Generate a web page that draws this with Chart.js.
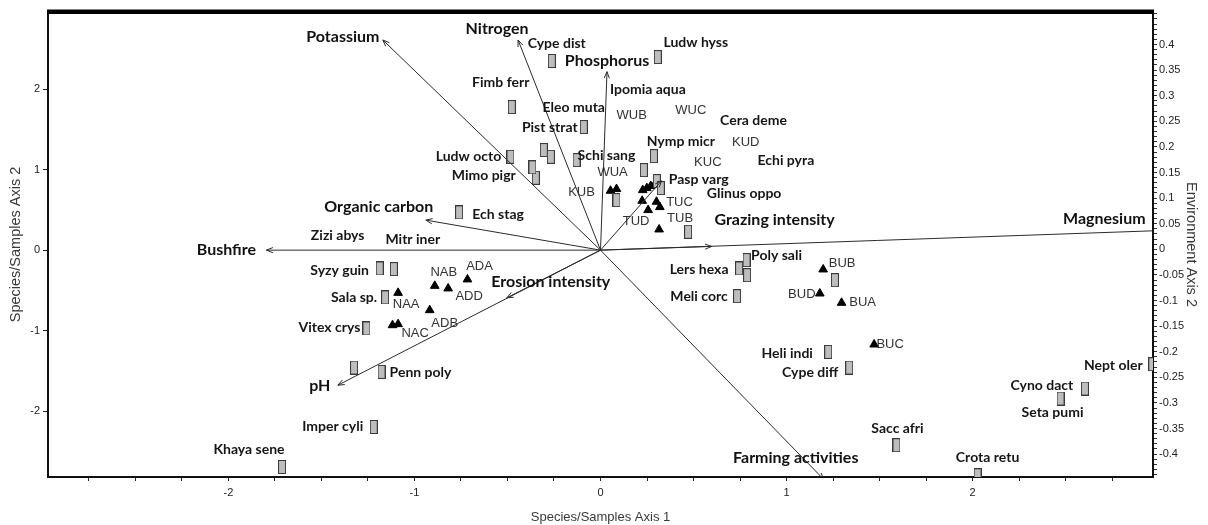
<!DOCTYPE html>
<html>
<head>
<meta charset="utf-8">
<title>CCA biplot</title>
<script src="https://cdn.jsdelivr.net/npm/chart.js@4.4.1/dist/chart.umd.min.js"></script>
<style>
  html, body { margin: 0; padding: 0; background: #ffffff; }
  #wrap { width: 1208px; height: 525px; }
</style>
</head>
<body>
<div id="wrap"><canvas id="cca" width="1208" height="525"></canvas></div>
<script>
// ---- Species scores (Species/Samples Axis 1, Axis 2) ----
const speciesNames = ['Cype dist','Ludw hyss','Fimb ferr','Eleo muta','Pist strat','Ipomia aqua','Cera deme','Echi pyra',
  'Glinus oppo','Pasp varg','Nymp micr','Ludw octo','Mimo pigr','Schi sang','Ech stag','Zizi abys','Mitr iner',
  'Syzy guin','Sala sp.','Vitex crys','Penn poly','Imper cyli','Khaya sene','Lers hexa','Poly sali','Meli corc',
  'Heli indi','Cype diff','Sacc afri','Crota retu','Nept oler','Cyno dact','Seta pumi','','','','','',''];
const speciesAxis1 = [-0.262, 0.308, -0.477, -0.305, -0.090, 0.233, 0.086, 0.303,
  0.471, 0.324, 0.287, -0.484, -0.348, -0.129, -0.760, -1.230, -1.052,
  -1.187, -1.158, -1.258, -1.177, -1.219, -1.712, 0.745, 0.785, 0.734,
  1.224, 1.337, 1.591, 2.027, 2.966, 2.604, 2.473, -0.366, -0.267, -1.111, -1.325, 0.788, 1.260];
const speciesAxis2 = [2.351, 2.400, 1.779, 1.244, 1.530, 0.995, 0.622, 0.858,
  0.228, 0.771, 1.169, 1.160, 0.899, 1.119, 0.469, 0, 0,
  -0.228, -0.588, -0.974, -1.514, -2.198, -2.695, -0.228, -0.124, -0.572,
  -1.265, -1.459, -2.425, -2.799, -1.418, -1.720, -1.845, 1.029, 1.160, -0.236, -1.459, -0.311, -0.373];
// species whose symbol sits under the Bushfire arrow and is not drawn
const speciesWithoutSymbol = ['Zizi abys', 'Mitr iner'];

// ---- Sample (site) scores ----
const siteNames = ['ADA','NAB','ADD','NAA','ADB','NAC','','BUB','BUD','BUA','BUC','TUC','TUB','TUD',
  'WUA','KUB','WUB','WUC','KUD','KUC','',''];
const siteAxis1 = [-0.715, -0.891, -0.819, -1.088, -0.918, -1.088, -1.118, 1.197, 1.179, 1.296, 1.471, 0.301, 0.315, 0.256,
  0.054, 0.086, 0.227, 0.249, 0.270, 0.292, 0.224, 0.319];
const siteAxis2 = [-0.364, -0.444, -0.476, -0.531, -0.746, -0.920, -0.933, -0.240, -0.539, -0.655, -1.173, 0.601, 0.257, 0.498,
  0.738, 0.759, 0.746, 0.771, 0.796, 0.821, 0.613, 0.535];

// ---- Environmental variables (arrow tips, drawn from the origin) ----
const envNames = ['Potassium','Nitrogen','Phosphorus','Organic carbon','Bushfire','Magnesium',
  'Grazing intensity','','Erosion intensity','pH','Farming activities'];
const envAxis1 = [-1.170, -0.443, 0.035, -0.939, -1.796, 3.02, 0.597, 0.328, -0.504, -1.412, 1.20];
const envAxis2 = [2.612, 2.612, 2.218, 0.373, 0, 0.244, 0.046, 0.862, -0.593, -1.679, -2.85];

// ---- Axis ranges and tick steps ----
const axis1Range = [-2.97, 2.97];
const axis2Range = [-2.82, 2.96];
const envAxisRange = [-0.4447, 0.4635];
const envAxisLabelLimit = 0.4;
const axis1Step = 0.25;
const axis2Step = 1;
const envAxisStep = 0.01;

// ---- Label placement (pixel offsets from each symbol) ----
const speciesLabelOffsets = [[5,-18],[38,-15],[-11,-25],[30,-43],[-34,0],[4,-81],[137,-80],[129,-21],
  [56,-38],[38,-9],[27,-15],[-42,0],[-52,-2],[30,-5],[39,2],[-34,-15],[8,-11],
  [-40,2],[-31,0],[-37,-1],[39,1],[-41,0],[-33,-17],[-40,1],[30,-5],[-38,0],
  [-41,2],[-39,5],[1,-17],[10,-18],[-39,1],[-43,-3],[-8,14],[0,0],[0,0],[0,0],[0,0],[0,0],[0,0]];
const siteLabelOffsets = [[12,-13],[9,-13],[21,8],[8,12],[15,13],[17,9],[0,0],[19,-6],[-18,1],[21,0],[16,0],
  [23,1],[21,-11],[-12,11],[2,-18],[-35,3],[-11,-75],[44,-78],[95,-44],[53,-22],[0,0],[0,0]];
const envLabelOffsets = [[-40,-3],[-21,-11],[0,-11],[-47,-13],[-40,0],[-58,-12],[63,-27],[0,0],[44,-16],[-18,1],[-28,-22]];

Chart.defaults.font.family = "'Liberation Sans', Arial, sans-serif";
Chart.defaults.color = '#222';

// grey rectangle symbol for species
function makeSpeciesSymbol() {
  const c = document.createElement('canvas');
  c.width = 8; c.height = 14;
  const g = c.getContext('2d');
  g.fillStyle = '#bdbdbd';
  g.fillRect(0, 0, 8, 14);
  g.strokeStyle = '#3a3a3a';
  g.lineWidth = 1;
  g.strokeRect(0.5, 0.5, 7, 13);
  return c;
}
const speciesSymbol = makeSpeciesSymbol();

const datasets = [];

// environmental arrows
envNames.forEach((name, i) => {
  datasets.push({
    type: 'scatter',
    data: [{x: 0, y: 0}, {x: envAxis1[i], y: envAxis2[i]}],
    showLine: true,
    borderColor: '#2b2b2b',
    borderWidth: 1,
    pointRadius: 0,
    clip: 0,
    arrowHead: true,
    pointLabels: [null, name],
    labelOffsets: [[0, 0], envLabelOffsets[i]],
    labelFont: "bold 16px Lato, 'Open Sans', sans-serif",
    labelColor: '#111'
  });
});

// species
datasets.push({
  type: 'scatter',
  data: speciesNames.map((n, i) => ({x: speciesAxis1[i], y: speciesAxis2[i]})),
  pointStyle: speciesSymbol,
  pointRadius: ctx => speciesWithoutSymbol.includes(speciesNames[ctx.dataIndex]) ? 0 : 5,
  clip: 0,
  pointLabels: speciesNames,
  labelOffsets: speciesLabelOffsets,
  labelFont: "bold 14px Lato, 'Open Sans', sans-serif",
  labelColor: '#161616'
});

// samples
datasets.push({
  type: 'scatter',
  data: siteNames.map((n, i) => ({x: siteAxis1[i], y: siteAxis2[i]})),
  pointStyle: 'triangle',
  pointRadius: 5,
  backgroundColor: '#000',
  borderColor: '#000',
  borderWidth: 1,
  clip: 0,
  pointLabels: siteNames,
  labelOffsets: siteLabelOffsets,
  labelFont: "13px 'Liberation Sans', Arial, sans-serif",
  labelColor: '#333'
});

const arrowHeads = {
  id: 'arrowHeads',
  afterDatasetsDraw(chart) {
    const {ctx, chartArea: a} = chart;
    ctx.save();
    ctx.beginPath();
    ctx.rect(a.left, a.top, a.right - a.left, a.bottom - a.top);
    ctx.clip();
    chart.data.datasets.forEach((ds, i) => {
      if (!ds.arrowHead) return;
      const pts = chart.getDatasetMeta(i).data;
      const p0 = pts[0], p1 = pts[1];
      const ang = Math.atan2(p1.y - p0.y, p1.x - p0.x);
      const L = 7, w = 0.38;
      ctx.strokeStyle = ds.borderColor;
      ctx.lineWidth = 1;
      ctx.beginPath();
      ctx.moveTo(p1.x - L * Math.cos(ang - w), p1.y - L * Math.sin(ang - w));
      ctx.lineTo(p1.x, p1.y);
      ctx.lineTo(p1.x - L * Math.cos(ang + w), p1.y - L * Math.sin(ang + w));
      ctx.stroke();
    });
    ctx.restore();
  }
};

const pointLabelsPlugin = {
  id: 'pointLabels',
  afterDatasetsDraw(chart) {
    const {ctx} = chart;
    chart.data.datasets.forEach((ds, i) => {
      if (!ds.pointLabels) return;
      const pts = chart.getDatasetMeta(i).data;
      ctx.save();
      ctx.font = ds.labelFont;
      ctx.fillStyle = ds.labelColor;
      ctx.textAlign = 'center';
      ctx.textBaseline = 'middle';
      pts.forEach((el, j) => {
        const t = ds.pointLabels[j];
        if (!t) return;
        const off = ds.labelOffsets[j];
        ctx.fillText(t, el.x + off[0], el.y + off[1]);
      });
      ctx.restore();
    });
  }
};

const topFrame = {
  id: 'topFrame',
  afterDraw(chart) {
    const {ctx, chartArea: a} = chart;
    ctx.save();
    ctx.fillStyle = '#000';
    ctx.fillRect(a.left - 1, a.top - 2.5, a.right - a.left + 2, 4.5);
    ctx.restore();
  }
};

const near = (v, step) => Math.abs(v / step - Math.round(v / step)) < 1e-6;

new Chart(document.getElementById('cca'), {
  type: 'scatter',
  data: { datasets },
  options: {
    responsive: false,
    animation: false,
    devicePixelRatio: 1,
    events: [],
    layout: { padding: { top: 12, left: 0, right: 0, bottom: 0 } },
    plugins: { legend: { display: false }, tooltip: { enabled: false } },
    scales: {
      x: {
        type: 'linear',
        position: 'bottom',
        min: axis1Range[0], max: axis1Range[1],
        afterFit(s) { s.height = 48; },
        border: { color: '#111', width: 2 },
        grid: { drawOnChartArea: false, drawTicks: true, tickLength: 4, tickColor: '#222', tickWidth: 1 },
        ticks: {
          stepSize: axis1Step, includeBounds: false, autoSkip: false, maxRotation: 0, padding: 5,
          font: { size: 11 }, color: '#222',
          callback: v => near(v, 1) ? String(Math.round(v)) : ''
        },
        title: { display: true, text: 'Species/Samples Axis 1', font: { size: 13 }, color: '#3a3a3a', padding: { top: 0, bottom: 0 } }
      },
      y: {
        type: 'linear',
        position: 'left',
        min: axis2Range[0], max: axis2Range[1],
        afterFit(s) { s.width = 48; },
        border: { color: '#111', width: 2 },
        grid: { drawOnChartArea: false, drawTicks: true, tickLength: 5, tickColor: '#222', tickWidth: 1 },
        ticks: {
          stepSize: axis2Step, includeBounds: false, autoSkip: false, padding: 3,
          font: { size: 11 }, color: '#222',
          callback: v => String(Math.round(v))
        },
        title: { display: true, text: 'Species/Samples Axis 2', font: { size: 14.5 }, color: '#3a3a3a', padding: { top: 7, bottom: 0 } }
      },
      y2: {
        type: 'linear',
        position: 'right',
        min: envAxisRange[0], max: envAxisRange[1],
        afterFit(s) { s.width = 55; },
        border: { color: '#111', width: 2 },
        grid: { drawOnChartArea: false, drawTicks: true, tickLength: 4, tickColor: '#333', tickWidth: 1 },
        ticks: {
          stepSize: envAxisStep, includeBounds: false, autoSkip: false, padding: 2,
          font: { size: 11 }, color: '#222',
          callback: v => (near(v, 0.05) && Math.abs(v) <= envAxisLabelLimit + 1e-9) ? String(+v.toFixed(2)) : ''
        },
        title: { display: true, text: 'Environment Axis 2', font: { size: 14.5 }, color: '#3a3a3a', padding: { top: 8, bottom: 0 } }
      }
    }
  },
  plugins: [arrowHeads, pointLabelsPlugin, topFrame]
});
</script>
</body>
</html>
